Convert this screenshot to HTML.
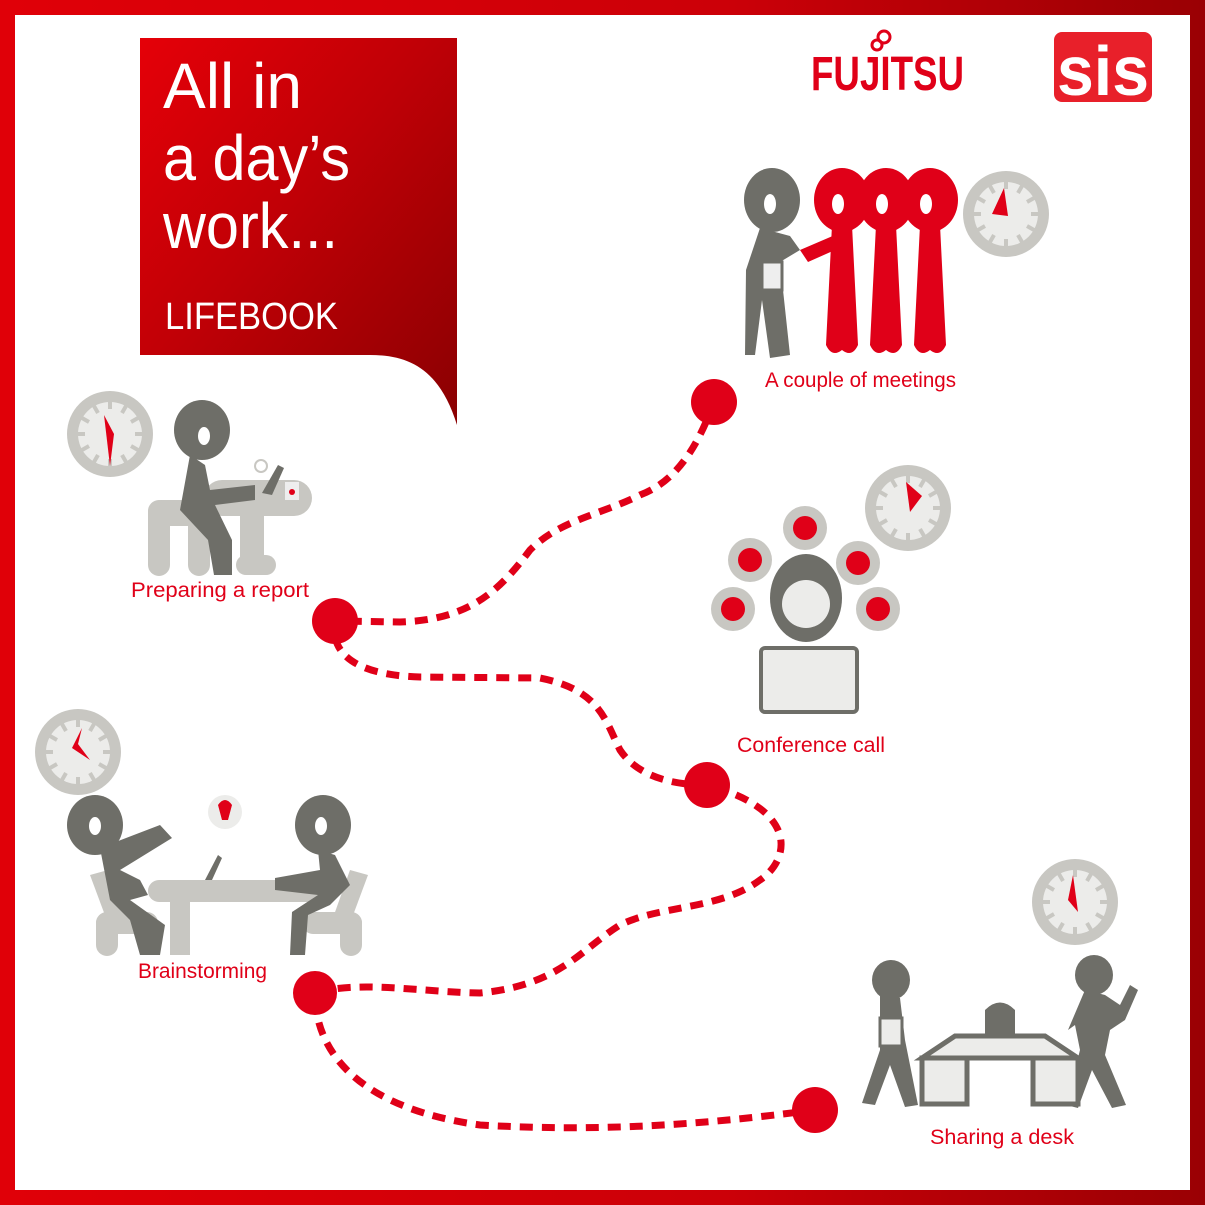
<!DOCTYPE html>
<html><head><meta charset="utf-8"><style>
html,body{margin:0;padding:0;width:1205px;height:1205px;overflow:hidden;background:#fff}
svg{display:block}
text{font-family:"Liberation Sans",sans-serif}
</style></head><body>
<svg width="1205" height="1205" viewBox="0 0 1205 1205" xmlns="http://www.w3.org/2000/svg">
<defs>
<linearGradient id="fr" x1="0" y1="0" x2="1" y2="0"><stop offset="0" stop-color="#e00008"/><stop offset="0.6" stop-color="#cc0008"/><stop offset="1" stop-color="#9a0004"/></linearGradient>
<linearGradient id="tb" x1="0" y1="0" x2="1" y2="1"><stop offset="0" stop-color="#e50008"/><stop offset="0.45" stop-color="#c00006"/><stop offset="1" stop-color="#8a0002"/></linearGradient>
<g id="clock"><circle r="43" fill="#c8c7c2"/><circle r="32" fill="#ececea"/>
<g stroke="#c8c7c2" stroke-width="4"><line x1="0" y1="-32" x2="0" y2="-25"/><line x1="0" y1="32" x2="0" y2="25"/><line x1="-32" y1="0" x2="-25" y2="0"/><line x1="32" y1="0" x2="25" y2="0"/><line x1="16" y1="-28" x2="12" y2="-21"/><line x1="-16" y1="-28" x2="-12" y2="-21"/><line x1="16" y1="28" x2="12" y2="21"/><line x1="-16" y1="28" x2="-12" y2="21"/><line x1="28" y1="16" x2="21" y2="12"/><line x1="-28" y1="16" x2="-21" y2="12"/><line x1="28" y1="-16" x2="21" y2="-12"/><line x1="-28" y1="-16" x2="-21" y2="-12"/></g></g>
</defs>
<rect width="1205" height="1205" fill="url(#fr)"/>
<rect x="15" y="15" width="1175" height="1175" fill="#fff"/>

<!-- title box -->
<path d="M140 38 H457 V425 C440 370 410 355 370 355 H140 Z" fill="url(#tb)"/>
<text x="163" y="108" font-size="64" fill="#fff" textLength="139" lengthAdjust="spacingAndGlyphs">All in</text>
<text x="163" y="180" font-size="64" fill="#fff" textLength="187" lengthAdjust="spacingAndGlyphs">a day’s</text>
<text x="163" y="248" font-size="64" fill="#fff" textLength="175" lengthAdjust="spacingAndGlyphs">work...</text>
<text x="165" y="329" font-size="38" fill="#fff" textLength="173" lengthAdjust="spacingAndGlyphs">LIFEBOOK</text>

<!-- logos -->
<text x="811" y="90" font-size="48" font-weight="bold" fill="#e00018" textLength="153" lengthAdjust="spacingAndGlyphs">FUJITSU</text>
<circle cx="884" cy="37" r="6" fill="none" stroke="#e00018" stroke-width="3"/><circle cx="877" cy="45" r="5" fill="none" stroke="#e00018" stroke-width="3"/>
<rect x="1054" y="32" width="98" height="70" rx="8" fill="#e8202a"/>
<text x="1057" y="95" font-size="70" font-weight="bold" fill="#fff" textLength="92" lengthAdjust="spacingAndGlyphs">sis</text>

<!-- path -->
<path d="M714 402 C700 440 680 480 640 495 C600 515 560 520 530 550 C500 590 470 620 400 622 L335 621 C330 650 350 675 420 677 L540 678 C600 690 605 720 620 750 C640 780 680 785 707 785 C800 810 790 860 760 880 C720 910 660 905 620 925 C580 950 560 985 480 993 C420 992 360 980 315 993 C315 1060 370 1110 480 1125 C600 1132 700 1125 815 1110" fill="none" stroke="#e00018" stroke-width="7" stroke-dasharray="13 9"/>
<g fill="#e00018"><circle cx="714" cy="402" r="23"/><circle cx="335" cy="621" r="23"/><circle cx="707" cy="785" r="23"/><circle cx="315" cy="993" r="22"/><circle cx="815" cy="1110" r="23"/></g>

<!-- clocks -->
<use href="#clock" x="110" y="434"/><path d="M104 415 L110 466 L114 434 Z" fill="#e00018"/>
<use href="#clock" x="78" y="752"/><path d="M82 728 L72 748 L90 760 L78 744 Z" fill="#e00018"/>
<use href="#clock" x="1006" y="214"/><path d="M1004 188 L1008 216 L992 214 Z" fill="#e00018"/>
<use href="#clock" x="908" y="508"/><path d="M906 482 L910 512 L922 496 Z" fill="#e00018"/>
<use href="#clock" x="1075" y="902"/><path d="M1073 875 L1078 912 L1068 900 Z" fill="#e00018"/>

<!-- meetings -->
<g fill="#6e6e68"><ellipse cx="772" cy="200" rx="28" ry="32"/><path d="M760 228 L790 236 L800 250 L780 262 L790 355 L770 358 L762 300 L755 355 L745 355 L746 270 Z"/></g>
<rect x="762" y="262" width="20" height="28" fill="#eee" stroke="#6e6e68" stroke-width="3"/>
<g fill="#e00018">
<ellipse cx="842" cy="200" rx="28" ry="32"/><path d="M832 225 L852 225 L858 345 Q852 358 842 350 Q832 358 826 345 Z"/>
<ellipse cx="886" cy="200" rx="28" ry="32"/><path d="M876 225 L896 225 L902 345 Q896 358 886 350 Q876 358 870 345 Z"/>
<ellipse cx="930" cy="200" rx="28" ry="32"/><path d="M920 225 L940 225 L946 345 Q940 358 930 350 Q920 358 914 345 Z"/>
<path d="M800 250 L835 235 L835 250 L808 262 Z"/></g>
<g fill="#fff"><ellipse cx="770" cy="204" rx="6" ry="10"/><ellipse cx="838" cy="204" rx="6" ry="10"/><ellipse cx="882" cy="204" rx="6" ry="10"/><ellipse cx="926" cy="204" rx="6" ry="10"/></g>
<text x="765" y="387" font-size="21" fill="#e00018" textLength="191" lengthAdjust="spacingAndGlyphs">A couple of meetings</text>

<!-- preparing report -->
<g fill="#c8c7c2"><rect x="148" y="500" width="62" height="26" rx="13"/><rect x="148" y="500" width="22" height="76" rx="11"/><rect x="188" y="500" width="22" height="76" rx="11"/>
<rect x="204" y="480" width="108" height="36" rx="18"/><rect x="240" y="500" width="24" height="70" /><rect x="236" y="555" width="40" height="20" rx="10"/></g>
<g fill="#6e6e68"><ellipse cx="202" cy="430" rx="28" ry="30"/><path d="M190 455 L205 465 L210 490 L255 485 L255 500 L215 505 L232 540 L232 575 L214 575 L208 540 L180 510 Z"/><path d="M262 493 L278 465 L284 468 L272 495 Z"/></g>
<ellipse cx="204" cy="436" rx="6" ry="9" fill="#fff"/>
<rect x="285" y="482" width="14" height="18" fill="#eee"/><circle cx="292" cy="492" r="3" fill="#e00018"/>
<circle cx="261" cy="466" r="6" fill="none" stroke="#c8c7c2" stroke-width="2"/>
<text x="131" y="597" font-size="21" fill="#e00018" textLength="178" lengthAdjust="spacingAndGlyphs">Preparing a report</text>

<!-- conference call -->
<g fill="#c8c7c2"><circle cx="805" cy="528" r="22"/><circle cx="750" cy="560" r="22"/><circle cx="858" cy="563" r="22"/><circle cx="733" cy="609" r="22"/><circle cx="878" cy="609" r="22"/></g>
<g fill="#e00018"><circle cx="805" cy="528" r="12"/><circle cx="750" cy="560" r="12"/><circle cx="858" cy="563" r="12"/><circle cx="733" cy="609" r="12"/><circle cx="878" cy="609" r="12"/></g>
<ellipse cx="806" cy="598" rx="36" ry="44" fill="#6e6e68"/><ellipse cx="806" cy="604" rx="24" ry="24" fill="#ececea"/>
<rect x="761" y="648" width="96" height="64" rx="4" fill="#ececea" stroke="#6e6e68" stroke-width="4"/>
<text x="737" y="752" font-size="21" fill="#e00018" textLength="148" lengthAdjust="spacingAndGlyphs">Conference call</text>

<!-- brainstorming -->
<g fill="#c8c7c2"><rect x="148" y="880" width="175" height="22" rx="11"/><rect x="170" y="895" width="20" height="60"/>
<rect x="96" y="912" width="62" height="22" rx="11"/><rect x="96" y="912" width="22" height="44" rx="11"/><path d="M90 875 L108 870 L125 915 L106 918 Z"/>
<rect x="302" y="912" width="60" height="22" rx="11"/><rect x="340" y="912" width="22" height="44" rx="11"/><path d="M350 870 L368 875 L352 918 L334 915 Z"/></g>
<g fill="#6e6e68"><ellipse cx="95" cy="825" rx="28" ry="30"/><path d="M100 848 L160 825 L172 838 L120 870 L140 880 L148 895 L130 900 L165 925 L160 955 L140 955 L130 920 L110 900 Z"/>
<ellipse cx="323" cy="825" rx="28" ry="30"/><path d="M318 850 L335 855 L350 885 L330 905 L308 915 L305 955 L290 955 L292 912 L318 895 L275 890 L275 878 L320 870 Z"/>
<path d="M205 880 L218 855 L222 858 L212 880 Z"/></g>
<ellipse cx="95" cy="826" rx="6" ry="9" fill="#fff"/><ellipse cx="321" cy="826" rx="6" ry="9" fill="#fff"/>
<circle cx="225" cy="812" r="17" fill="#ececea"/><path d="M218 805 Q225 795 232 805 L228 820 L222 820 Z" fill="#e00018"/>
<text x="138" y="978" font-size="21" fill="#e00018" textLength="129" lengthAdjust="spacingAndGlyphs">Brainstorming</text>

<!-- sharing a desk -->
<g fill="#6e6e68"><path d="M985 1035 L985 1010 Q1000 995 1015 1010 L1015 1035 Z"/>
<ellipse cx="891" cy="980" rx="19" ry="20"/><path d="M880 995 L900 998 L905 1040 L918 1105 L905 1107 L890 1065 L875 1105 L862 1103 L880 1050 Z"/>
<ellipse cx="1094" cy="975" rx="19" ry="20"/><path d="M1085 990 L1105 995 L1120 1005 L1130 985 L1138 990 L1125 1020 L1110 1030 L1105 1055 L1126 1105 L1112 1108 L1092 1070 L1078 1108 L1066 1105 L1080 1050 L1075 1025 L1068 1030 Z"/></g>
<g fill="#ececea" stroke="#6e6e68" stroke-width="5"><path d="M922 1058 L955 1036 H1045 L1078 1058 Z"/><rect x="922" y="1058" width="45" height="46"/><rect x="1033" y="1058" width="45" height="46"/></g>
<rect x="880" y="1018" width="22" height="28" fill="#ececea" stroke="#6e6e68" stroke-width="3"/>
<text x="930" y="1144" font-size="21" fill="#e00018" textLength="144" lengthAdjust="spacingAndGlyphs">Sharing a desk</text>
</svg>
</body></html>
